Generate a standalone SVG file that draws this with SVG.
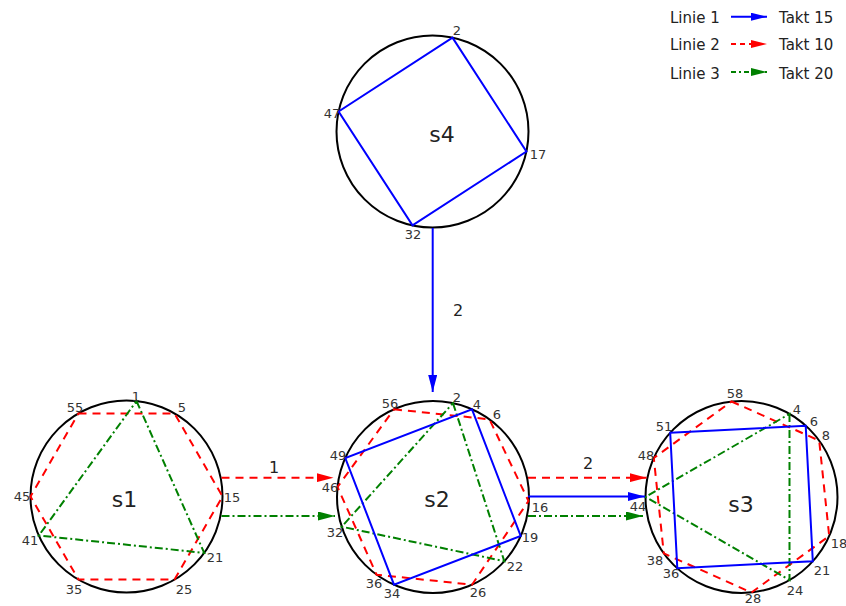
<svg xmlns="http://www.w3.org/2000/svg" width="846" height="606" viewBox="0 0 846 606">
<style>
.bg{fill:#fff}
.ring{fill:none;stroke:#000;stroke-width:2}
.l1{fill:none;stroke:#0000ff;stroke-width:2}
.l2{fill:none;stroke:#ff0000;stroke-width:2;stroke-dasharray:8 6}
.l3{fill:none;stroke:#008000;stroke-width:2;stroke-dasharray:8 3 2 3}
.lg2{fill:none;stroke:#ff0000;stroke-width:2;stroke-dasharray:5 4}
.lg3{fill:none;stroke:#008000;stroke-width:2;stroke-dasharray:5 3 2 3}
text{font-family:"DejaVu Sans","Liberation Sans",sans-serif}
.name{font-size:22px;fill:#222;text-anchor:middle}
.pt{font-size:13px;fill:#333;text-anchor:middle}
.lab{font-size:16px;fill:#222;text-anchor:middle}
.leg{font-size:15px;fill:#222}
</style>
<defs>
<marker id="ab" markerUnits="userSpaceOnUse" markerWidth="17" markerHeight="9" refX="17" refY="4.5" orient="auto"><path d="M0,0 L17,4.5 L0,9 z" fill="#0000ff"/></marker>
<marker id="ar" markerUnits="userSpaceOnUse" markerWidth="17" markerHeight="9" refX="17" refY="4.5" orient="auto"><path d="M0,0 L17,4.5 L0,9 z" fill="#ff0000"/></marker>
<marker id="ag" markerUnits="userSpaceOnUse" markerWidth="17" markerHeight="9" refX="17" refY="4.5" orient="auto"><path d="M0,0 L17,4.5 L0,9 z" fill="#008000"/></marker>
<marker id="lb" markerUnits="userSpaceOnUse" markerWidth="16" markerHeight="8" refX="16" refY="4" orient="auto"><path d="M0,0 L16,4 L0,8 z" fill="#0000ff"/></marker>
<marker id="lr" markerUnits="userSpaceOnUse" markerWidth="16" markerHeight="8" refX="16" refY="4" orient="auto"><path d="M0,0 L16,4 L0,8 z" fill="#ff0000"/></marker>
<marker id="lgm" markerUnits="userSpaceOnUse" markerWidth="16" markerHeight="8" refX="16" refY="4" orient="auto"><path d="M0,0 L16,4 L0,8 z" fill="#008000"/></marker>
</defs>
<rect class="bg" x="0" y="0" width="846" height="606"/>

<g id="legend">
<text class="leg" x="670" y="22.5">Linie 1</text>
<line class="l1" x1="731" y1="16.7" x2="767" y2="16.7" marker-end="url(#lb)"/>
<text class="leg" x="779" y="22.5">Takt 15</text>
<text class="leg" x="670" y="50">Linie 2</text>
<line class="lg2" x1="731" y1="44" x2="767" y2="44" marker-end="url(#lr)"/>
<text class="leg" x="779" y="50">Takt 10</text>
<text class="leg" x="670" y="78.5">Linie 3</text>
<line class="lg3" x1="731" y1="72" x2="767" y2="72" marker-end="url(#lgm)"/>
<text class="leg" x="779" y="78.5">Takt 20</text>
</g>

<g id="s4">
<circle class="ring" cx="432.5" cy="131.5" r="96"/>
<polygon class="l1" points="452.5,37.6 526.4,151.5 412.5,225.4 338.6,111.5"/>
<text class="name" x="442" y="142">s4</text>
<text class="pt" x="457" y="34.7">2</text>
<text class="pt" x="332" y="117.7">47</text>
<text class="pt" x="538" y="158.7">17</text>
<text class="pt" x="413" y="238.7">32</text>
</g>

<g id="s1">
<circle class="ring" cx="126.5" cy="496.5" r="96"/>
<polygon class="l2" points="78.5,413.4 174.5,413.4 222.5,496.5 174.5,579.6 78.5,579.6 30.5,496.5"/>
<polygon class="l3" points="136.5,401 204.2,552.9 38.8,535.5"/>
<text class="name" x="124.5" y="507">s1</text>
<text class="pt" x="136" y="400.7">1</text>
<text class="pt" x="75" y="411.7">55</text>
<text class="pt" x="182" y="411.7">5</text>
<text class="pt" x="22" y="500.7">45</text>
<text class="pt" x="232" y="501.7">15</text>
<text class="pt" x="30" y="544.7">41</text>
<text class="pt" x="215" y="561.7">21</text>
<text class="pt" x="74" y="593.7">35</text>
<text class="pt" x="184" y="593.7">25</text>
</g>

<g id="s2">
<circle class="ring" cx="433" cy="497" r="96"/>
<polygon class="l2" points="394,409.3 489.4,419.3 528.5,501 472,584.7 376.6,574.7 337.5,487"/>
<polygon class="l3" points="453,403.1 504.3,561.2 341.7,526.7"/>
<polygon class="l1" points="472,409.3 520.7,536 394,584.7 345.3,458"/>
<text class="name" x="437" y="507">s2</text>
<text class="pt" x="390" y="407.7">56</text>
<text class="pt" x="457" y="401.7">2</text>
<text class="pt" x="477" y="408.7">4</text>
<text class="pt" x="497" y="418.7">6</text>
<text class="pt" x="338" y="459.7">49</text>
<text class="pt" x="330" y="491.7">46</text>
<text class="pt" x="335" y="536.7">32</text>
<text class="pt" x="540" y="511.7">16</text>
<text class="pt" x="530" y="541.7">19</text>
<text class="pt" x="515" y="570.7">22</text>
<text class="pt" x="478" y="596.7">26</text>
<text class="pt" x="374" y="587.7">36</text>
<text class="pt" x="392" y="597.7">34</text>
</g>

<g id="s3">
<circle class="ring" cx="741.5" cy="497" r="96"/>
<polygon class="l2" points="731.5,401.5 819.2,440.6 829.2,536 751.5,592.5 663.8,553.4 653.8,458"/>
<polygon class="l3" points="789.5,413.9 789.5,580.1 645.5,497"/>
<polygon class="l1" points="670.2,432.8 805.7,425.7 812.8,561.2 677.3,568.3"/>
<text class="name" x="741" y="512">s3</text>
<text class="pt" x="735" y="397.7">58</text>
<text class="pt" x="797" y="413.7">4</text>
<text class="pt" x="814" y="425.7">6</text>
<text class="pt" x="826" y="439.7">8</text>
<text class="pt" x="664" y="430.7">51</text>
<text class="pt" x="646" y="459.7">48</text>
<text class="pt" x="638" y="510.7">44</text>
<text class="pt" x="839" y="547.7">18</text>
<text class="pt" x="822" y="574.7">21</text>
<text class="pt" x="655" y="564.7">38</text>
<text class="pt" x="671" y="577.7">36</text>
<text class="pt" x="795" y="594.7">24</text>
<text class="pt" x="753" y="602.5">28</text>
</g>

<g id="connectors">
<line class="l1" x1="432.7" y1="228" x2="432.7" y2="392" marker-end="url(#ab)"/>
<text class="lab" x="458" y="316">2</text>
<line class="l2" x1="221.5" y1="477.7" x2="333.5" y2="477.7" marker-end="url(#ar)"/>
<text class="lab" x="274" y="473">1</text>
<line class="l3" x1="221.5" y1="516" x2="335" y2="516" marker-end="url(#ag)"/>
<line class="l2" x1="528" y1="477.7" x2="646.5" y2="477.7" marker-end="url(#ar)"/>
<text class="lab" x="588" y="469">2</text>
<line class="l1" x1="528" y1="496.5" x2="645" y2="496.5" marker-end="url(#ab)"/>
<line class="l3" x1="528" y1="516" x2="643" y2="516" marker-end="url(#ag)"/>
</g>
</svg>
